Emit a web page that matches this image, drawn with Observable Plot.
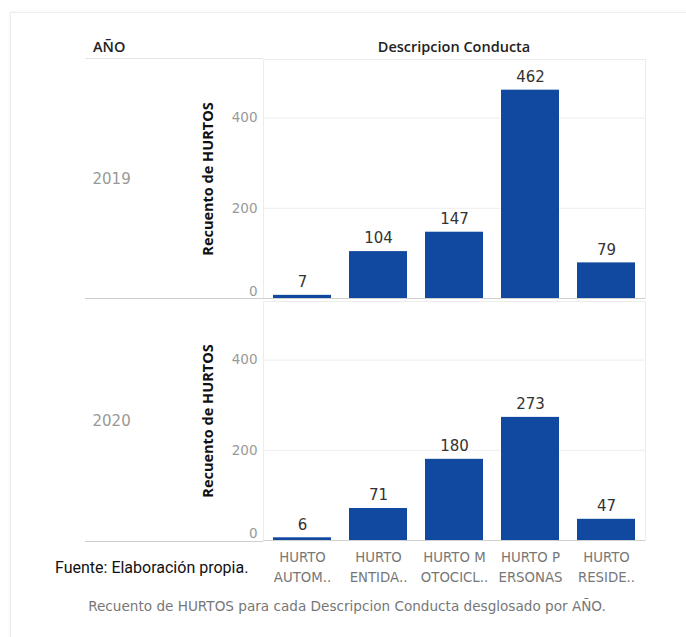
<!DOCTYPE html>
<html>
<head>
<meta charset="utf-8">
<script src="https://cdn.jsdelivr.net/npm/d3@7"></script>
<script src="https://cdn.jsdelivr.net/npm/@observablehq/plot@0.6"></script>
<style>
  html, body { margin: 0; padding: 0; background: #fff; }
  #wrap { position: relative; width: 686px; height: 637px; overflow: hidden; font-family: "DejaVu Sans", sans-serif; }
  .card { position: absolute; left: 10px; top: 12px; right: -4px; bottom: -4px; border: 1px solid #e9edf1; box-shadow: 0 0 3px rgba(0,0,0,0.05); }
  .hline { position: absolute; height: 1px; }
  .lbl { position: absolute; white-space: nowrap; transform: translateY(-50%); }
  #chart { position: absolute; left: 0; top: 0; }
</style>
</head>
<body>
<div id="wrap">
  <div class="card"></div>
  <div class="hline" style="left:85px; width:178px; top:58px; background:#e4e4e4"></div>
  <div class="hline" style="left:85px; width:178px; top:298px; background:#cfcfcf"></div>
  <div class="hline" style="left:85px; width:178px; top:541px; background:#cfcfcf"></div>
  <div class="lbl" style="left:93px; top:46px; font-family:'Open Sans', sans-serif; font-size:14.5px; font-weight:600; color:#222">AÑO</div>
  <div class="lbl" style="left:454px; top:46px; font-family:'Open Sans', sans-serif; font-size:14.5px; font-weight:600; color:#222; transform:translate(-50%,-50%)">Descripcion Conducta</div>
  <div id="chart"></div>
  <div class="lbl" style="left:55px; top:567px; font-family:Roboto, sans-serif; font-size:16px; color:#111">Fuente: Elaboración propia.</div>
  <div class="lbl" style="left:347px; top:606px; font-size:13.6px; color:#777; transform:translate(-50%,-50%)">Recuento de HURTOS para cada Descripcion Conducta desglosado por AÑO.</div>
</div>
<script>
const years = ["2019", "2020"];
const categories = ["HURTO AUTOMOTORES", "HURTO ENTIDADES COMERCIALES", "HURTO MOTOCICLETAS", "HURTO PERSONAS", "HURTO RESIDENCIAS"];
const tickLabels = ["HURTO\nAUTOM..", "HURTO\nENTIDA..", "HURTO M\nOTOCICL..", "HURTO P\nERSONAS", "HURTO\nRESIDE.."];
const values2019 = [7, 104, 147, 462, 79];
const values2020 = [6, 71, 180, 273, 47];
const yTicks = [0, 200, 400];

const data = [];
categories.forEach((c, i) => data.push({year: "2019", cat: c, value: values2019[i]}));
categories.forEach((c, i) => data.push({year: "2020", cat: c, value: values2020[i]}));

const chart = Plot.plot({
  width: 686,
  height: 590,
  marginLeft: 263,
  marginRight: 41,
  marginTop: 58,
  marginBottom: 49,
  style: {fontFamily: "'DejaVu Sans', sans-serif", fontSize: "13px", background: "transparent"},
  x: {domain: categories, paddingInner: 0.24, paddingOuter: 0.12, label: null},
  y: {domain: [0, 530], label: null},
  fy: {domain: years, padding: 0.012, label: null, axis: null},
  marks: [
    Plot.frame({stroke: "#ececec"}),
    Plot.gridY(yTicks.filter(d => d > 0), {stroke: "#eeeeee", strokeOpacity: 1}),
    Plot.axisY(yTicks.filter(d => d > 0), {tickSize: 0, tickPadding: 6, fill: "#999", fontSize: 13.5, label: null}),
    Plot.axisY(yTicks.filter(d => d === 0), {tickSize: 0, tickPadding: 6, dy: -7, fill: "#999", fontSize: 13.5, label: null}),
    Plot.barY(data, {x: "cat", y: "value", fy: "year", fill: "#1149a0"}),
    Plot.ruleY([0], {stroke: "#cfcfcf"}),
    Plot.text(data, {x: "cat", y: "value", fy: "year", text: d => String(d.value), dy: -13, fill: "#333", fontSize: 15}),
    Plot.text(years, {fy: d => d, text: d => d, frameAnchor: "left", dx: -171, textAnchor: "start", fill: "#999", fontSize: 15}),
    Plot.text(years, {fy: d => d, text: () => "Recuento de HURTOS", frameAnchor: "left", textAnchor: "middle", rotate: -90, dx: -55, fontWeight: "bold", fill: "#111", fontSize: 14.5, fontFamily: "'Open Sans', sans-serif"}),
    Plot.axisX({anchor: "bottom", tickSize: 0, tickPadding: 7, tickFormat: (d) => tickLabels[categories.indexOf(d)], lineHeight: 1.5, fill: "#777", fontSize: 13.3, label: null})
  ]
});
document.getElementById("chart").appendChild(chart);
</script>
</body>
</html>
